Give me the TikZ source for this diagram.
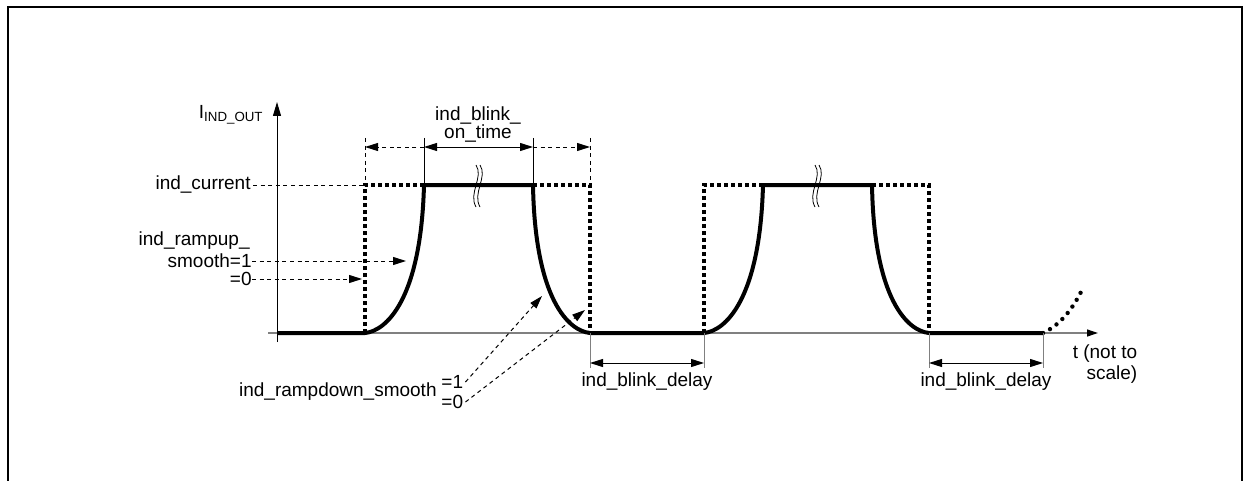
\documentclass[tikz,border=0pt]{standalone}
\usepackage{fontspec}
\setmainfont{Liberation Sans}
\usetikzlibrary{arrows.meta, positioning}

\begin{document}
\begin{tikzpicture}[
            x=0.5pt, y=-0.5pt, % one unit is one pixel of the sketch
            every node/.style={font=\fontsize{9.5}{10.5}\selectfont, inner sep=1pt}, % Arial-like labels
            signal/.style={line width=2pt, line join=round}, % real output current
            ideal/.style={line width=1.8pt, dash pattern=on 1.8pt off 1.7pt}, % ramp smoothing off
            tail/.style={line width=2.2pt, line cap=round, dash pattern=on 0pt off 4pt}, % next pulse
            helper/.style={line width=0.5pt, dash pattern=on 2pt off 1.8pt}, % thin dashed guide
            tip/.style={-{Triangle[length=6.5pt, width=4pt]}},
            tips/.style={{Triangle[length=6.5pt, width=4pt]}-{Triangle[length=6.5pt, width=4pt]}}
            ]

        \useasboundingbox (0,0) rectangle (1247,481);
        \draw[line width=0.8pt] (8,481) -- (8,7) -- (1242,7) -- (1242,481); % frame, open at the bottom

        % axes
        \coordinate (ybot) at (277,342);
        \coordinate (ytop) at (277,102);
        \coordinate (xleft) at (268,333);
        \coordinate (xright) at (1098,333);
        \draw[gray, line width=0.6pt, -{Triangle[length=5.5pt, width=3.5pt, color=black]}] (xleft) -- (xright);
        \draw[line width=0.5pt, -{Triangle[length=7pt, width=4pt]}] (ybot) -- (ytop);

        \node[anchor=east] (iout) at (266,115) {I\textsubscript{IND\_OUT}};
        \node[anchor=east] (cur) at (253,185) {ind\_current};
        \node[align=right] (tlab) at (1105,364) {t (not to\\scale)};

        % corners of the two pulses
        \foreach \n/\x in {1/365, 2/704}{
            \coordinate (lo\n) at (\x,333);
            \coordinate (hi\n) at (\x,185);
            \coordinate (on\n) at (\x+59,185);
            \coordinate (off\n) at (\x+168,185);
            \coordinate (fall\n) at (\x+225,185);
            \coordinate (end\n) at (\x+225,333);
            \draw[ideal] (lo\n) -- (hi\n) -- (on\n);
            \draw[ideal] (off\n) -- (fall\n) -- (end\n);
            \draw[line width=0.4pt] (\x+111,165) .. controls (\x+119,177) and (\x+103,193) .. (\x+111,207);
            \draw[line width=0.4pt] (\x+115,165) .. controls (\x+123,177) and (\x+107,193) .. (\x+115,207);
        }
        \coordinate (last) at (1043,333);
        \draw[signal] (277,333) -- (lo1)
            .. controls (386,331) and (421,300) .. (on1) -- (off1)
            .. controls (535,300) and (569,331) .. (end1) -- (lo2)
            .. controls (725,331) and (760,300) .. (on2) -- (off2)
            .. controls (874,300) and (908,331) .. (end2) -- (last);
        \draw[tail] (last) .. controls (1060,325) and (1072,310) .. (1082,290);

        \draw[helper] (cur.east) -- (hi1);

        % on time dimension
        \coordinate (d1) at (365,138);
        \coordinate (d2) at (424,138);
        \coordinate (d3) at (533,138);
        \coordinate (d4) at (590,138);
        \draw[helper] (d1) -- (hi1);
        \draw[helper] (d4) -- (fall1);
        \draw[line width=0.5pt] (d2) -- (on1);
        \draw[line width=0.5pt] (d3) -- (off1);
        \draw[helper, tip] (424,147) -- (365,147);
        \draw[line width=0.5pt, tips] (424,147) -- (533,147);
        \draw[helper, tip] (533,147) -- (590,147);
        \node (ontime1) at (478,116) {ind\_blink\_};
        \node (ontime2) at (478,134) {on\_time};

        % ramp up labels
        \node[anchor=east] (rup) at (252,241) {ind\_rampup\_};
        \node[anchor=east, inner sep=0pt] (rup1) at (252,261) {smooth=1};
        \node[anchor=east, inner sep=0pt] (rup0) at (252,279) {=0};
        \draw[helper, tip] (rup1.east) -- (406,261);
        \draw[helper, tip] (rup0.east) -- (362,279);

        % ramp down labels
        \node[anchor=east] (rdn) at (439,392) {ind\_rampdown\_smooth};
        \node[anchor=west] (rdn1) at (439,382) {=1};
        \node[anchor=west] (rdn0) at (439,402) {=0};
        \draw[helper, tip] (rdn1.east) -- (542,296);
        \draw[helper, tip] (rdn0.east) -- (585,310);

        % blink delay dimensions
        \foreach \n/\a/\b in {1/590/704, 2/929/1043}{
            \draw[gray, line width=0.5pt] (\a,333) -- (\a,368);
            \draw[gray, line width=0.5pt] (\b,333) -- (\b,368);
            \draw[line width=0.5pt, tips] (\a,363) -- (\b,363);
            \node (dly\n) at ({(\a+\b)/2},382) {ind\_blink\_delay};
        }

            \end{tikzpicture}
\end{document}
